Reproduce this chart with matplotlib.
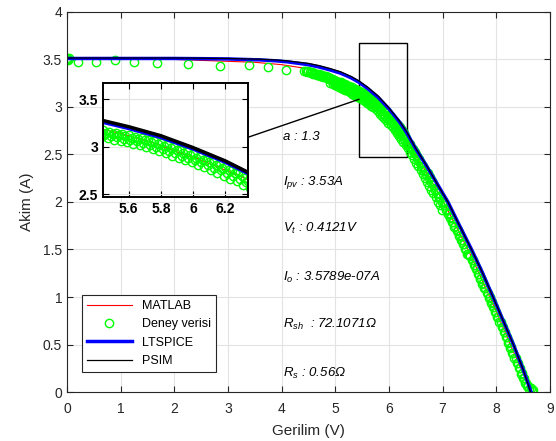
import matplotlib
matplotlib.use("Agg")
import matplotlib.pyplot as plt
from matplotlib.patches import Rectangle

plt.rcParams['font.family'] = ['Liberation Sans', 'DejaVu Sans']
plt.rcParams['mathtext.fontset'] = 'custom'
plt.rcParams['mathtext.it'] = 'Liberation Sans:italic'
plt.rcParams['mathtext.rm'] = 'Liberation Sans:italic'

# Modeller (MATLAB, LTSPICE, PSIM)
v_matlab = [0, 1, 2, 2.5, 3, 3.5, 4.0, 4.4, 4.65, 4.9, 5.2, 5.45, 5.57, 5.72, 5.79,
            5.96, 6.02, 6.32, 6.5, 7.0, 7.5, 8.0, 8.3, 8.5, 8.66]
i_matlab = [3.51, 3.505, 3.50, 3.49, 3.48, 3.47, 3.445, 3.41, 3.385, 3.345, 3.27, 3.18,
            3.13, 3.056, 3.02, 2.905, 2.88, 2.67, 2.50, 2.02, 1.47, 0.85, 0.45, 0.2, 0.0]

v_lt = [0, 0.5, 1, 1.5, 2, 2.5, 3, 3.3, 3.6, 3.9, 4.1, 4.3, 4.5, 4.7, 4.9, 5.1, 5.3,
        5.44, 5.6, 5.8, 6.0, 6.2, 6.33, 6.5, 6.7, 6.9, 7.1, 7.3, 7.54, 7.74, 7.94,
        8.13, 8.32, 8.5, 8.65]
i_lt = [3.51, 3.51, 3.51, 3.51, 3.51, 3.508, 3.505, 3.50, 3.495, 3.485, 3.475, 3.46,
        3.445, 3.42, 3.39, 3.355, 3.305, 3.26, 3.195, 3.10, 2.98, 2.84, 2.73, 2.56,
        2.38, 2.19, 2.0, 1.77, 1.5, 1.26, 1.0, 0.75, 0.5, 0.24, 0.0]

v_psim = [0, 0.5, 1, 1.5, 2, 2.5, 3, 3.3, 3.6, 3.9, 4.1, 4.3, 4.5, 4.7, 4.9, 5.1, 5.3,
          5.44, 5.6, 5.8, 6.0, 6.2, 6.33, 6.5, 6.7, 6.9, 7.1, 7.3, 7.54, 7.74, 7.94,
          8.13, 8.32, 8.5, 8.64]
i_psim = [3.515, 3.515, 3.515, 3.515, 3.515, 3.513, 3.51, 3.506, 3.502, 3.494, 3.485,
          3.472, 3.458, 3.435, 3.405, 3.37, 3.32, 3.275, 3.21, 3.115, 2.99, 2.85, 2.74,
          2.565, 2.385, 2.19, 2.0, 1.77, 1.5, 1.26, 1.0, 0.75, 0.5, 0.24, 0.0]

# Deney verisi (V, I) okumalari
deney = [
    (0.0, 3.52), (0.01, 3.50), (0.02, 3.49), (0.03, 3.51), (0.21, 3.47), (0.54, 3.47),
    (0.89, 3.49), (1.25, 3.47), (1.68, 3.46), (2.25, 3.45), (2.85, 3.43), (3.40, 3.44),
    (3.75, 3.42), (4.08, 3.39), (4.42, 3.38),
    (4.46, 3.38), (4.48, 3.37), (4.50, 3.375), (4.52, 3.365), (4.54, 3.36), (4.56, 3.365),
    (4.58, 3.35), (4.60, 3.355), (4.62, 3.345), (4.64, 3.35), (4.66, 3.34), (4.68, 3.335),
    (4.70, 3.345), (4.72, 3.33), (4.74, 3.325), (4.76, 3.335), (4.78, 3.32), (4.80, 3.31),
    (4.82, 3.325), (4.84, 3.30), (4.86, 3.31), (4.88, 3.295), (4.90, 3.30), (4.92, 3.285),
    (4.94, 3.29), (4.96, 3.275), (4.98, 3.285), (5.00, 3.27), (5.02, 3.275), (5.04, 3.26),
    (5.06, 3.265), (5.08, 3.25), (5.10, 3.26), (5.12, 3.24), (5.14, 3.245), (5.16, 3.23),
    (5.18, 3.24), (5.20, 3.22), (5.22, 3.225), (5.24, 3.205), (5.26, 3.22), (5.28, 3.20),
    (5.30, 3.19), (5.32, 3.205), (5.34, 3.18), (5.36, 3.185), (5.38, 3.17), (5.40, 3.18),
    (5.42, 3.155), (5.44, 3.17), (5.46, 3.145), (5.48, 3.155), (5.50, 3.135), (5.52, 3.145),
    (5.54, 3.12), (5.56, 3.13), (5.58, 3.11), (5.60, 3.12), (5.62, 3.095), (5.64, 3.105),
    (5.66, 3.08), (5.68, 3.09), (5.70, 3.065), (5.72, 3.075), (5.74, 3.045), (5.76, 3.055),
    (5.78, 3.03), (5.80, 3.04), (5.82, 3.005), (5.84, 3.015), (5.86, 2.985), (5.88, 2.995),
    (5.90, 2.96), (5.92, 2.97), (5.94, 2.935), (5.96, 2.945), (5.98, 2.91), (6.00, 2.92),
    (6.02, 2.885), (6.04, 2.89), (6.06, 2.86), (6.08, 2.865), (6.10, 2.835), (6.12, 2.845),
    (6.14, 2.81), (6.16, 2.815), (6.18, 2.78), (6.20, 2.79), (6.22, 2.75), (6.24, 2.76),
    (6.26, 2.72), (6.28, 2.73), (6.30, 2.695),
    (6.32, 2.67), (6.34, 2.635), (6.36, 2.625), (6.38, 2.59), (6.40, 2.605), (6.42, 2.565),
    (6.44, 2.555), (6.46, 2.52), (6.48, 2.53), (6.50, 2.49), (6.52, 2.485), (6.54, 2.445),
    (6.56, 2.45), (6.58, 2.41), (6.60, 2.415), (6.62, 2.37), (6.64, 2.375), (6.66, 2.33),
    (6.68, 2.34), (6.70, 2.295), (6.72, 2.30), (6.74, 2.255), (6.76, 2.26), (6.78, 2.21),
    (6.80, 2.22), (6.82, 2.175), (6.84, 2.175), (6.86, 2.13), (6.88, 2.135), (6.90, 2.09),
    (6.92, 2.095), (6.94, 2.05), (6.96, 2.05), (6.98, 2.005), (7.00, 2.015), (7.02, 1.965),
    (7.04, 1.97), (7.06, 1.92), (7.08, 1.925), (7.10, 1.875), (7.12, 1.88), (7.14, 1.83),
    (7.16, 1.84), (7.18, 1.785), (7.20, 1.79), (7.22, 1.74), (7.24, 1.745), (7.26, 1.695),
    (7.28, 1.70), (7.30, 1.645), (7.32, 1.655), (7.34, 1.60), (7.36, 1.605), (7.38, 1.555),
    (7.40, 1.56), (7.42, 1.505), (7.44, 1.51), (7.46, 1.455), (7.48, 1.455), (7.50, 1.44),
    (7.52, 1.43), (7.54, 1.39), (7.56, 1.385), (7.58, 1.34), (7.60, 1.34), (7.62, 1.29),
    (7.64, 1.29), (7.66, 1.24), (7.68, 1.245), (7.70, 1.19), (7.72, 1.195), (7.74, 1.14),
    (7.76, 1.145), (7.78, 1.09), (7.80, 1.095), (7.82, 1.04), (7.84, 1.045), (7.86, 0.99),
    (7.88, 0.995), (7.90, 0.94), (7.92, 0.945), (7.94, 0.89), (7.96, 0.895), (7.98, 0.84),
    (8.00, 0.845), (8.02, 0.79), (8.04, 0.79), (8.06, 0.735), (8.08, 0.74), (8.10, 0.68),
    (8.12, 0.685), (8.14, 0.63), (8.16, 0.63), (8.18, 0.575), (8.20, 0.575), (8.22, 0.52),
    (8.24, 0.525), (8.26, 0.465), (8.28, 0.47), (8.30, 0.415), (8.32, 0.415), (8.34, 0.36),
    (8.36, 0.36), (8.38, 0.305), (8.40, 0.305), (8.42, 0.25), (8.44, 0.25), (8.46, 0.195),
    (8.48, 0.20), (8.50, 0.145), (8.52, 0.15), (8.54, 0.10), (8.56, 0.10), (8.58, 0.06),
    (8.60, 0.065), (8.62, 0.035), (8.64, 0.04), (8.66, 0.015), (8.68, 0.02),
    # alt serit (dagilim)
    (4.91, 3.255), (4.95, 3.245), (4.99, 3.235), (5.03, 3.225), (5.07, 3.215), (5.11, 3.20),
    (5.15, 3.19), (5.19, 3.18), (5.23, 3.165), (5.27, 3.155), (5.31, 3.14), (5.35, 3.13),
    (5.39, 3.12), (5.43, 3.10), (5.47, 3.09), (5.51, 3.075), (5.55, 3.06), (5.59, 3.045),
    (5.63, 3.03), (5.67, 3.015), (5.71, 2.995), (5.75, 2.975), (5.79, 2.955), (5.83, 2.93),
    (5.87, 2.905), (5.91, 2.88), (5.95, 2.86), (5.99, 2.835), (6.03, 2.81), (6.07, 2.785),
    (6.11, 2.755), (6.15, 2.725), (6.19, 2.695), (6.23, 2.665), (6.27, 2.635), (6.31, 2.60),
    (6.35, 2.565), (6.39, 2.525), (6.43, 2.49), (6.47, 2.455), (6.51, 2.415), (6.55, 2.375),
    (6.59, 2.335), (6.63, 2.295), (6.67, 2.255), (6.71, 2.215), (6.75, 2.17), (6.79, 2.13),
    (6.83, 2.09), (6.87, 2.05), (6.91, 2.005), (6.95, 1.965), (6.99, 1.92),
    # orta serit
    (5.01, 3.25), (5.05, 3.24), (5.09, 3.23), (5.13, 3.215), (5.17, 3.205), (5.21, 3.195),
    (5.25, 3.18), (5.29, 3.17), (5.33, 3.16), (5.37, 3.15), (5.41, 3.135), (5.45, 3.125),
    (5.49, 3.11), (5.53, 3.10), (5.57, 3.085), (5.61, 3.07), (5.65, 3.055), (5.69, 3.035),
    (5.73, 3.02), (5.77, 3.0), (5.81, 2.98), (5.85, 2.955), (5.89, 2.93), (5.93, 2.905),
    (5.97, 2.88), (6.01, 2.86), (6.05, 2.835), (6.09, 2.81), (6.13, 2.78), (6.17, 2.75),
    (6.21, 2.72), (6.25, 2.69), (6.29, 2.66), (6.33, 2.625), (6.37, 2.59),
]
v_deney = [p[0] for p in deney]
i_deney = [p[1] for p in deney]

etiketler = ['a : 1.3', '$I_{pv}$ : 3.53A', '$V_t$ : 0.4121V', '$I_o$ : 3.5789e-07A',
             '$R_{sh}$  : 72.1071\u03a9', '$R_s$ : 0.56\u03a9']
etiket_y = [2.65, 2.18, 1.68, 1.17, 0.67, 0.16]

koyu = '#262626'

fig = plt.figure(figsize=(5.56, 4.41), dpi=100)
ax = fig.add_axes([0.1205, 0.111, 0.8685, 0.862])


def ciz(eks, lw_lt, lw_ps):
    eks.plot(v_matlab, i_matlab, color='red', lw=0.8, label='MATLAB')
    eks.plot(v_deney, i_deney, 'o', mfc='none', mec=(0, 1, 0), ms=6, mew=1.0,
             label='Deney verisi')
    eks.plot(v_lt, i_lt, color='blue', lw=lw_lt, label='LTSPICE')
    eks.plot(v_psim, i_psim, color='black', lw=lw_ps, label='PSIM')


ciz(ax, 2.5, 0.9)
ax.set_xlim(0, 9)
ax.set_ylim(0, 4)
ax.set_xticks(range(0, 10))
ax.set_yticks([0, 0.5, 1, 1.5, 2, 2.5, 3, 3.5, 4])
ax.set_yticklabels(['0', '0.5', '1', '1.5', '2', '2.5', '3', '3.5', '4'])
ax.grid(True, color='#e3e3e3', lw=0.8)
ax.set_axisbelow(True)
ax.tick_params(direction='in', top=True, right=True, length=4, labelsize=10,
               colors=koyu)
ax.tick_params(axis='x', pad=7)
for s in ax.spines.values():
    s.set_color(koyu)
ax.set_xlabel('Gerilim (V)', fontsize=11, color=koyu, labelpad=6)
ax.set_ylabel('Akim (A)', fontsize=11, color=koyu, labelpad=6)

leg = ax.legend(loc='lower left', bbox_to_anchor=(0.031, 0.053), borderaxespad=0,
                fontsize=9, handlelength=3.6, fancybox=False, framealpha=1,
                edgecolor=koyu)
leg.get_frame().set_linewidth(0.8)

for t, y in zip(etiketler, etiket_y):
    ax.text(4.02, y, t, fontsize=9.5, style='italic', va='baseline')

# yakinlastirma kutusu
ax.add_patch(Rectangle((5.44, 2.47), 0.89, 1.2, fill=False, color='black', lw=1))
ax.plot([3.37, 5.44], [2.68, 3.08], color='black', lw=1)

axi = fig.add_axes([0.185, 0.553, 0.261, 0.259])
ciz(axi, 3.0, 2.5)
axi.set_xlim(5.44, 6.34)
axi.set_ylim(2.47, 3.67)
axi.set_xticks([5.6, 5.8, 6, 6.2])
axi.set_xticklabels(['5.6', '5.8', '6', '6.2'])
axi.set_yticks([2.5, 3, 3.5])
axi.set_yticklabels(['2.5', '3', '3.5'])
axi.grid(True, color='#e3e3e3', lw=0.8)
axi.set_axisbelow(True)
axi.tick_params(direction='in', top=True, right=True, length=4, labelsize=10)
for lab in axi.get_xticklabels() + axi.get_yticklabels():
    lab.set_fontweight('bold')
for s in axi.spines.values():
    s.set_linewidth(1.4)

fig.savefig('out.png', dpi=100)
